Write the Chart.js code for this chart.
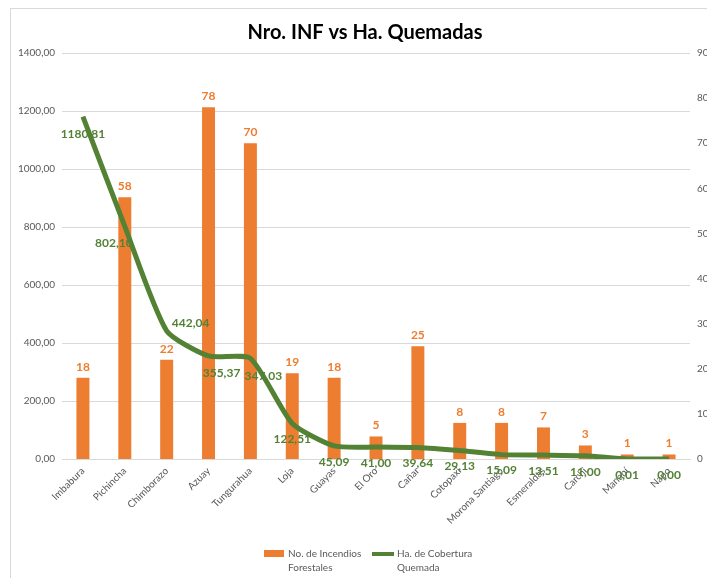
<!DOCTYPE html>
<html>
<head>
<meta charset="utf-8">
<script src="https://cdn.jsdelivr.net/npm/chart.js@4"></script>
<style>
html,body{margin:0;padding:0;background:#fff;overflow:hidden;width:707px;height:578px;}
#wrap{position:absolute;left:0;top:0;width:730px;height:578px;}
#frame{position:absolute;left:10px;top:8px;width:730px;height:600px;border-left:1px solid #d9d9d9;border-top:1px solid #d9d9d9;}
.lg{position:absolute;font:10px Lato, sans-serif;color:#595959;line-height:14px;}
</style>
</head>
<body>
<div id="frame"></div>
<div id="wrap"><canvas id="c" width="730" height="578"></canvas></div>
<div id="legend"></div>
<script>
const chartTitle = "Nro. INF vs Ha. Quemadas";
const categories = ["Imbabura","Pichincha","Chimborazo","Azuay","Tungurahua","Loja","Guayas","El Oro","Cañar","Cotopaxi","Morona Santiago","Esmeraldas","Carchi","Manabí","Napo"];
const incendios = [18,58,22,78,70,19,18,5,25,8,8,7,3,1,1];
const hectareas = [1180.81,802.10,442.04,355.37,347.03,122.51,45.09,41.00,39.64,29.13,15.09,13.51,11.00,0.01,0.00];
const seriesNames = ["No. de Incendios Forestales","Ha. de Cobertura Quemada"];
const leftAxis = {min:0, max:1400, step:200};
const rightAxis = {min:0, max:90, step:10};

const ORANGE = '#ED7D31', GREEN = '#548235', GRAY = '#595959', GRID = '#d9d9d9';
const fmt = v => Number(v).toFixed(2).replace('.', ',');

// legend (HTML text)
const lg = document.getElementById('legend');
lg.innerHTML =
  '<div style="position:absolute;left:264px;top:550px;width:20px;height:7px;background:'+ORANGE+'"></div>' +
  '<div class="lg" style="left:288px;top:546px;width:86px;">'+seriesNames[0]+'</div>' +
  '<div style="position:absolute;left:372px;top:552px;width:22px;height:4px;background:'+GREEN+'"></div>' +
  '<div class="lg" style="left:397px;top:546px;width:86px;">'+seriesNames[1]+'</div>';

const labelShift = {0:[0,18],1:[-11,17],2:[24,-8],3:[13,17],4:[13,18]};

const labelPlugin = {
  id: 'valueLabels',
  afterDatasetsDraw(chart) {
    const ctx = chart.ctx;
    ctx.save();
    ctx.font = 'bold 12px Lato, sans-serif';
    ctx.textAlign = 'center';
    const barMeta = chart.getDatasetMeta(0);
    ctx.fillStyle = ORANGE;
    ctx.textBaseline = 'bottom';
    barMeta.data.forEach((el, i) => {
      ctx.fillText(String(incendios[i]), el.x, el.y - 5);
    });
    const lineMeta = chart.getDatasetMeta(1);
    ctx.fillStyle = GREEN;
    ctx.textBaseline = 'middle';
    lineMeta.data.forEach((el, i) => {
      const s = labelShift[i] || [0,16];
      ctx.fillText(fmt(hectareas[i]), el.x + s[0], el.y + s[1]);
    });
    ctx.restore();
  }
};

new Chart(document.getElementById('c'), {
  data: {
    labels: categories,
    datasets: [
      {
        type: 'bar',
        label: seriesNames[0],
        data: incendios,
        yAxisID: 'y1',
        backgroundColor: ORANGE,
        barPercentage: 0.62,
        categoryPercentage: 0.5,
        order: 2
      },
      {
        type: 'line',
        label: seriesNames[1],
        data: hectareas,
        yAxisID: 'y',
        borderColor: GREEN,
        backgroundColor: GREEN,
        borderWidth: 5,
        pointRadius: 0,
        tension: 0.2,
        borderJoinStyle: 'round',
        fill: false,
        order: 1
      }
    ]
  },
  options: {
    responsive: false,
    animation: false,
    layout: {padding: {left: 0, right: 0, top: 0, bottom: 40}},
    plugins: {
      legend: {display: false},
      tooltip: {enabled: false},
      title: {
        display: true,
        text: chartTitle,
        color: '#000',
        font: {family: 'Lato, sans-serif', size: 20, weight: 'bold'},
        padding: {top: 21, bottom: 8}
      }
    },
    scales: {
      x: {
        grid: {display: false, drawTicks: false},
        border: {color: GRID},
        ticks: {
          color: GRAY, font: {family: 'Lato, sans-serif', size: 10},
          maxRotation: 45, minRotation: 45, autoSkip: false, padding: 6
        },
        afterFit(s) { s.height = 79; }
      },
      y: {
        position: 'left',
        min: leftAxis.min, max: leftAxis.max,
        grid: {color: GRID, drawTicks: false},
        border: {display: false},
        ticks: {
          stepSize: leftAxis.step, color: GRAY, padding: 7,
          font: {family: 'Lato, sans-serif', size: 10},
          callback: v => fmt(v)
        },
        afterFit(s) { s.width = 62; }
      },
      y1: {
        position: 'right',
        min: rightAxis.min, max: rightAxis.max,
        grid: {display: false, drawTicks: false},
        border: {display: false},
        ticks: {
          stepSize: rightAxis.step, color: GRAY, padding: 7,
          font: {family: 'Lato, sans-serif', size: 10}
        },
        afterFit(s) { s.width = 40; }
      }
    }
  },
  plugins: [labelPlugin]
});
</script>
</body>
</html>
